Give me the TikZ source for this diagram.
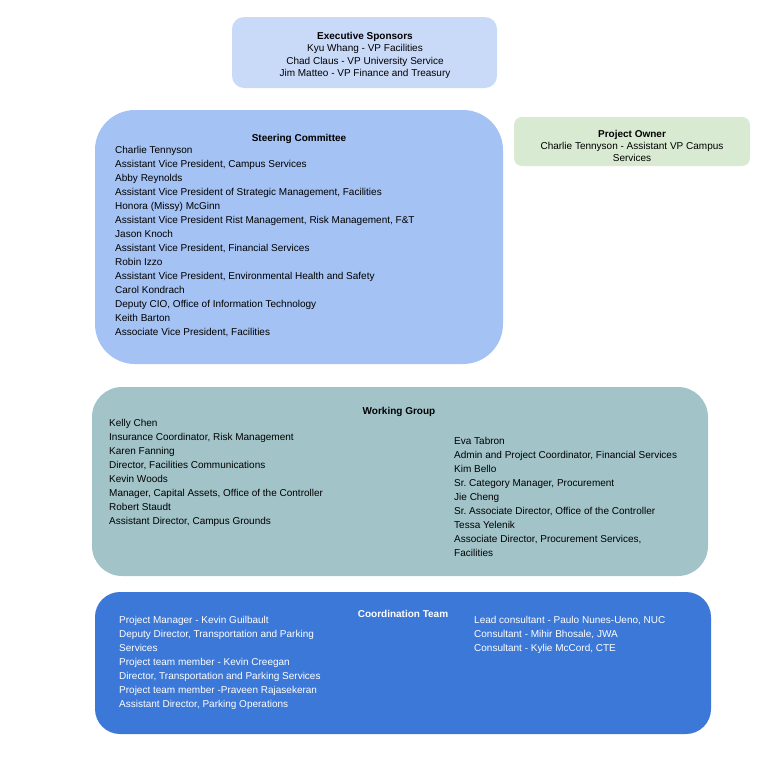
\documentclass[tikz,border=0pt]{standalone}
\usepackage{fontspec}
\setmainfont{Liberation Sans}
\frenchspacing

\definecolor{execblue}{HTML}{C9DAF8}
\definecolor{steerblue}{HTML}{A4C2F4}
\definecolor{ownergreen}{HTML}{D9EAD3}
\definecolor{workteal}{HTML}{A2C4C9}
\definecolor{coordblue}{HTML}{3C78D8}

\begin{document}
\begin{tikzpicture}[x = 1pt, y = -1pt,
	group/.style = {draw = none, inner sep = 0pt},
	names/.style = {inner sep = 0pt, align = left, anchor = north west,
		font = \fontsize{10}{14}\selectfont},
	title/.style = {inner sep = 0pt, anchor = base, font = \fontsize{10}{14}\selectfont\bfseries}]

	\useasboundingbox (0, 0) rectangle (765, 769);

	% The boxes

	\node [group, fill = execblue, rounded corners = 12pt, minimum width = 265pt, minimum height = 71pt] (exec) at (364.5, 52.5) {};
	\node [group, fill = steerblue, rounded corners = 40pt, minimum width = 408pt, minimum height = 254pt] (steer) at (299, 237) {};
	\node [group, fill = ownergreen, rounded corners = 8pt, minimum width = 236pt, minimum height = 49pt] (owner) at (632, 141.5) {};
	\node [group, fill = workteal, rounded corners = 30pt, minimum width = 616pt, minimum height = 189pt] (work) at (400, 481.5) {};
	\node [group, fill = coordblue, rounded corners = 25pt, minimum width = 616pt, minimum height = 142pt] (coord) at (403, 663) {};

	% Executive sponsors and owner

	\node [names, anchor = north, align = center, font = \fontsize{10}{12.3}\selectfont] (sponsors) at (365, 32)
		{\textbf{Executive Sponsors}\\Kyu Whang - VP Facilities\\Chad Claus - VP University Service\\Jim Matteo - VP Finance and Treasury};
	\node [names, anchor = north, align = center, font = \fontsize{10}{12}\selectfont] (ownertext) at (632, 130)
		{\textbf{Project Owner}\\Charlie Tennyson - Assistant VP Campus\\Services};

	% Steering committee

	\node [title] (steertitle) at (299, 141.3) {Steering Committee};
	\node [names] (steerlist) at (115, 146.2)
		{Charlie Tennyson\\
		Assistant Vice President, Campus Services\\
		Abby Reynolds\\
		Assistant Vice President of Strategic Management, Facilities\\
		Honora (Missy) McGinn\\
		Assistant Vice President Rist Management, Risk Management, F\&T\\
		Jason Knoch\\
		Assistant Vice President, Financial Services\\
		Robin Izzo\\
		Assistant Vice President, Environmental Health and Safety\\
		Carol Kondrach\\
		Deputy CIO, Office of Information Technology\\
		Keith Barton\\
		Associate Vice President, Facilities};

	% Working group

	\node [title] (worktitle) at (399, 414.3) {Working Group};
	\node [names] (workleft) at (109, 419.2)
		{Kelly Chen\\
		Insurance Coordinator, Risk Management\\
		Karen Fanning\\
		Director, Facilities Communications\\
		Kevin Woods\\
		Manager, Capital Assets, Office of the Controller\\
		Robert Staudt\\
		Assistant Director, Campus Grounds};
	\node [names] (workright) at (454, 437.2)
		{Eva Tabron\\
		Admin and Project Coordinator, Financial Services\\
		Kim Bello\\
		Sr. Category Manager, Procurement\\
		Jie Cheng\\
		Sr. Associate Director, Office of the Controller\\
		Tessa Yelenik\\
		Associate Director, Procurement Services,\\
		Facilities};

	% Coordination team

	\begin{scope}[text = white]

		\node [title] (coordtitle) at (403, 617.3) {Coordination Team};
		\node [names] (coordleft) at (119, 616.2)
			{Project Manager - Kevin Guilbault\\
			Deputy Director, Transportation and Parking\\
			Services\\
			Project team member - Kevin Creegan\\
			Director, Transportation and Parking Services\\
			Project team member -Praveen Rajasekeran\\
			Assistant Director, Parking Operations};
		\node [names] (coordright) at (474, 616.2)
			{Lead consultant - Paulo Nunes-Ueno, NUC\\
			Consultant - Mihir Bhosale, JWA\\
			Consultant - Kylie McCord, CTE};

	\end{scope}

\end{tikzpicture}
\end{document}
